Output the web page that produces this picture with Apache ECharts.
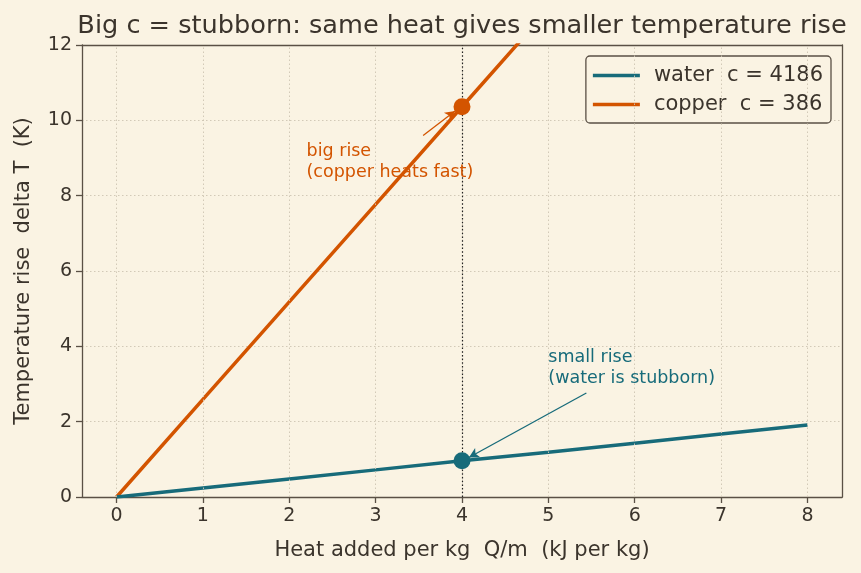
<!DOCTYPE html>
<html><head><meta charset="utf-8">
<script src="https://cdn.jsdelivr.net/npm/echarts@6/dist/echarts.min.js"></script>
<style>html,body{margin:0;padding:0;background:#faf3e3;}#c{width:861px;height:573px;}</style>
</head><body><div id="c"></div>
<script>
const heatQ = [0, 1, 2, 3, 4, 5, 6, 7, 8];
const waterRise = [0, 0.24, 0.48, 0.72, 0.96, 1.19, 1.43, 1.67, 1.91];
const copperRise = [0, 2.59, 5.18, 7.77, 10.36, 12.95, 15.54, 18.13, 20.73];
const xTicks = [0, 1, 2, 3, 4, 5, 6, 7, 8];
const markQ = 4;
const waterMark = 0.96;
const copperMark = 10.36;
const seriesNames = ['water  c = 4186', 'copper  c = 386'];
const bigRiseText = 'big rise\n(copper heats fast)';
const smallRiseText = 'small rise\n(water is stubborn)';
const bigRiseAt = [2.2, 8.34];
const smallRiseAt = [5.0, 2.87];
const bigArrow = [[3.55, 9.6], [3.92, 10.25]];
const smallArrow = [[5.44, 2.76], [4.08, 1.05]];

const WATER = '#176b7a', COPPER = '#d35400', INK = '#3b342c', FRAME = '#5a5045', GRID = '#cdc4b2';
const FONT = 'DejaVu Sans';

const plainAxis = (pos, min, max) => ({
  type: 'value', min: min, max: max, position: pos,
  axisLine: {show: true, onZero: false, lineStyle: {color: FRAME, width: 1.3}},
  axisTick: {show: false}, axisLabel: {show: false}, splitLine: {show: false}
});

const chart = echarts.init(document.getElementById('c'), null, {renderer: 'canvas'});
chart.setOption({
  backgroundColor: '#faf3e3',
  animation: false,
  textStyle: {fontFamily: FONT, color: INK},
  title: {
    text: 'Big c = stubborn: same heat gives smaller temperature rise',
    left: 457, textAlign: 'center', top: 8,
    textStyle: {fontFamily: FONT, fontSize: 25.6, fontWeight: 'normal', color: INK}
  },
  grid: {left: 82, right: 19, top: 45, bottom: 76},
  legend: {
    right: 30, top: 56, orient: 'vertical',
    data: seriesNames,
    icon: 'rect', itemWidth: 47, itemHeight: 3.5, itemGap: 8,
    backgroundColor: '#faf3e3', borderColor: FRAME, borderWidth: 1.3, borderRadius: 4,
    padding: [9, 8, 8, 7],
    textStyle: {fontFamily: FONT, fontSize: 21, color: INK, padding: [0, 0, 0, 9]}
  },
  xAxis: [{
    type: 'value', min: -0.4, max: 8.4,
    name: 'Heat added per kg  Q/m  (kJ per kg)', nameLocation: 'middle', nameGap: 43,
    nameTextStyle: {fontFamily: FONT, fontSize: 21, color: INK},
    axisLine: {show: true, onZero: false, lineStyle: {color: FRAME, width: 1.3}},
    axisTick: {show: true, customValues: xTicks, length: 6, lineStyle: {color: FRAME, width: 1.3}},
    axisLabel: {customValues: xTicks, fontFamily: FONT, fontSize: 19, color: INK, margin: 10},
    splitLine: {show: false}
  }, plainAxis('top', -0.4, 8.4)],
  yAxis: [{
    type: 'value', min: 0, max: 12, interval: 2,
    name: 'Temperature rise  delta T  (K)', nameLocation: 'middle', nameGap: 48,
    nameTextStyle: {fontFamily: FONT, fontSize: 21, color: INK},
    axisLine: {show: true, onZero: false, lineStyle: {color: FRAME, width: 1.3}},
    axisTick: {show: true, length: 6, lineStyle: {color: FRAME, width: 1.3}},
    axisLabel: {fontFamily: FONT, fontSize: 19, color: INK, margin: 10},
    splitLine: {show: true, lineStyle: {color: GRID, type: [1.5, 2.5], width: 0.9}}
  }, plainAxis('right', 0, 12)],
  series: [
    {
      name: 'grid-x', type: 'line', data: [], silent: true,
      markLine: {
        silent: true, symbol: ['none', 'none'], label: {show: false},
        lineStyle: {color: GRID, type: [1.5, 2.5], width: 0.9},
        data: xTicks.map(v => ({xAxis: v}))
      }
    },
    {
      name: 'vline', type: 'line', data: [], silent: true,
      markLine: {
        silent: true, symbol: ['none', 'none'], label: {show: false},
        lineStyle: {color: '#222', type: [1.5, 2.2], width: 1.2},
        data: [{xAxis: markQ}]
      }
    },
    {
      name: seriesNames[1], type: 'line', clip: true,
      data: heatQ.map((q, i) => [q, copperRise[i]]),
      showSymbol: false, symbol: 'none',
      lineStyle: {color: COPPER, width: 3.5}, itemStyle: {color: COPPER},
      z: 3,
      markLine: {
        silent: true, symbol: ['none', 'arrow'], symbolSize: [8, 10], label: {show: false},
        lineStyle: {color: COPPER, width: 1.3, type: 'solid'},
        data: [[{coord: bigArrow[0]}, {coord: bigArrow[1]}]]
      }
    },
    {
      name: seriesNames[0], type: 'line', clip: true,
      data: heatQ.map((q, i) => [q, waterRise[i]]),
      showSymbol: false, symbol: 'none',
      lineStyle: {color: WATER, width: 3.5}, itemStyle: {color: WATER},
      z: 3,
      markLine: {
        silent: true, symbol: ['none', 'arrow'], symbolSize: [8, 10], label: {show: false},
        lineStyle: {color: WATER, width: 1.3, type: 'solid'},
        data: [[{coord: smallArrow[0]}, {coord: smallArrow[1]}]]
      }
    },
    {
      name: 'markers', type: 'scatter', silent: true, symbol: 'circle', symbolSize: 17, z: 5,
      data: [
        {value: [markQ, copperMark], itemStyle: {color: COPPER, opacity: 1}},
        {value: [markQ, waterMark], itemStyle: {color: WATER, opacity: 1}}
      ]
    },
    {
      name: 'notes', type: 'scatter', silent: true, symbolSize: 0, z: 6,
      itemStyle: {opacity: 1},
      data: [
        {value: bigRiseAt, label: {show: true, formatter: bigRiseText, color: COPPER}},
        {value: smallRiseAt, label: {show: true, formatter: smallRiseText, color: WATER}}
      ],
      label: {position: [0, 0], align: 'left', verticalAlign: 'bottom', fontFamily: FONT, fontSize: 17.5, lineHeight: 21}
    }
  ]
});
</script>
</body></html>
